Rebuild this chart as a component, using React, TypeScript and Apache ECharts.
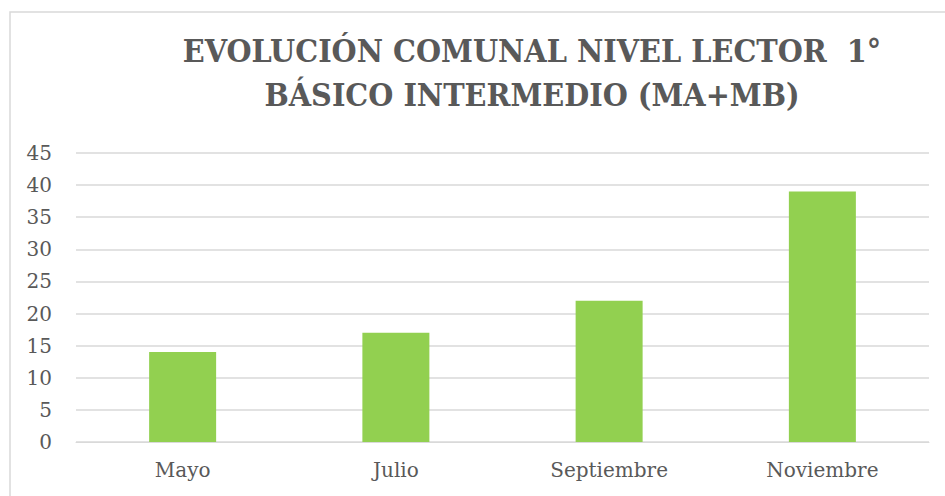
import React, { useEffect, useRef } from "react";
import * as echarts from "echarts";

const categories = ["Mayo", "Julio", "Septiembre", "Noviembre"];
const values = [14, 17, 22, 39];
const titleLines = ["EVOLUCIÓN COMUNAL NIVEL LECTOR  1°", "BÁSICO INTERMEDIO (MA+MB)"];

export default function App() {
  const ref = useRef<HTMLDivElement>(null);
  useEffect(() => {
    if (!ref.current) return;
    const chart = echarts.init(ref.current, null, { renderer: "svg" });
    chart.setOption({
      animation: false,
      backgroundColor: "#ffffff",
      title: {
        text: titleLines.join("\n"),
        left: 527,
        top: 24,
        textAlign: "center",
        textStyle: {
          fontFamily: "DejaVu Serif Condensed, DejaVu Serif",
          fontWeight: "bold",
          fontSize: 32,
          lineHeight: 44,
          color: "#595959",
        },
      },
      graphic: [
        {
          type: "rect",
          shape: { x: 10, y: 12, width: 1000, height: 600 },
          style: { fill: "none", stroke: "#d9d9d9", lineWidth: 1.5 },
          silent: true,
        },
      ],
      grid: { left: 76, right: 16, top: 153, bottom: 54, containLabel: false },
      xAxis: {
        type: "category",
        data: categories,
        axisLine: { lineStyle: { color: "#d9d9d9" } },
        axisTick: { show: false },
        axisLabel: {
          color: "#595959",
          fontFamily: "DejaVu Serif",
          fontSize: 20,
          margin: 18,
        },
      },
      yAxis: {
        type: "value",
        min: 0,
        max: 45,
        interval: 5,
        axisLine: { show: false },
        axisTick: { show: false },
        splitLine: { lineStyle: { color: "#d9d9d9", width: 1.5 } },
        axisLabel: {
          color: "#595959",
          fontFamily: "DejaVu Serif",
          fontSize: 20,
          margin: 24,
        },
      },
      series: [
        {
          type: "bar",
          data: values,
          barWidth: 67,
          itemStyle: { color: "#92d050" },
        },
      ],
    });
    return () => chart.dispose();
  }, []);
  return (
    <div
      ref={ref}
      style={{ position: "fixed", left: 0, top: 0, width: 945, height: 496 }}
    />
  );
}
